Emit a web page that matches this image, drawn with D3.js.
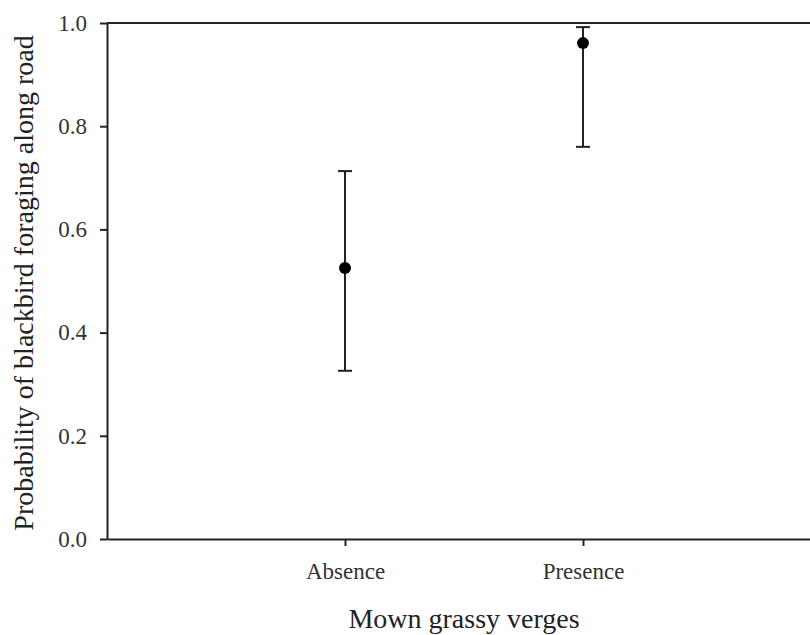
<!DOCTYPE html>
<html>
<head>
<meta charset="utf-8">
<script src="https://cdn.jsdelivr.net/npm/d3@7"></script>
<style>
  body { margin: 0; background: #fff; }
  svg text { font-family: "Liberation Serif", "Times New Roman", Times, serif; fill: #222; }
</style>
</head>
<body>
<div id="chart"></div>
<script>
const categories = ["Absence", "Presence"];
const means = [0.525, 0.961];
const lower = [0.326, 0.760];
const upper = [0.713, 0.992];
const yTicks = [0.0, 0.2, 0.4, 0.6, 0.8, 1.0];

const width = 810, height = 635;
const margin = { top: 23, right: -11, bottom: 96, left: 107 };

const svg = d3.select("#chart").append("svg")
  .attr("width", width)
  .attr("height", height);

const x = d3.scaleLinear()
  .domain([0, categories.length + 1])
  .range([margin.left, width - margin.right]);

const y = d3.scaleLinear()
  .domain([0, 1])
  .range([height - margin.bottom, margin.top]);

const rows = categories.map((c, i) => ({ cat: c, pos: i + 1, m: means[i], lo: lower[i], hi: upper[i] }));

// top frame line
svg.append("line")
  .attr("x1", x(0)).attr("x2", x(categories.length + 1))
  .attr("y1", y(1)).attr("y2", y(1))
  .attr("stroke", "#222").attr("stroke-width", 2);

// y axis
const yAxis = svg.append("g")
  .attr("transform", `translate(${x(0)},0)`)
  .call(d3.axisLeft(y).tickValues(yTicks).tickFormat(d3.format(".1f")).tickSize(7).tickSizeOuter(0).tickPadding(13));

// x axis
const xAxis = svg.append("g")
  .attr("transform", `translate(0,${y(0)})`)
  .call(d3.axisBottom(x).tickValues(rows.map(d => d.pos)).tickFormat((d, i) => categories[i]).tickSize(7).tickSizeOuter(0).tickPadding(17));

[yAxis, xAxis].forEach(a => {
  a.attr("font-family", null);
  a.select(".domain").attr("stroke", "#222").attr("stroke-width", 2);
  a.selectAll(".tick line").attr("stroke", "#222").attr("stroke-width", 2);
  a.selectAll("text").attr("font-size", 23).style("fill", "#333");
});

// error bars
const bars = svg.append("g").selectAll("g").data(rows).enter().append("g");
bars.append("line")
  .attr("x1", d => x(d.pos)).attr("x2", d => x(d.pos))
  .attr("y1", d => y(d.lo)).attr("y2", d => y(d.hi))
  .attr("stroke", "#222").attr("stroke-width", 2);
bars.selectAll(".cap")
  .data(d => [[d.pos, d.lo], [d.pos, d.hi]])
  .enter().append("line")
  .attr("class", "cap")
  .attr("x1", d => x(d[0]) - 7).attr("x2", d => x(d[0]) + 7)
  .attr("y1", d => y(d[1])).attr("y2", d => y(d[1]))
  .attr("stroke", "#222").attr("stroke-width", 2);
bars.append("circle")
  .attr("cx", d => x(d.pos)).attr("cy", d => y(d.m))
  .attr("r", 6).attr("fill", "#000");

// axis titles
svg.append("text")
  .attr("x", (x(1) + x(2)) / 2).attr("y", 628)
  .attr("text-anchor", "middle")
  .attr("font-size", 28)
  .text("Mown grassy verges");

svg.append("text")
  .attr("transform", `translate(33,283) rotate(-90)`)
  .attr("text-anchor", "middle")
  .attr("font-size", 28)
  .text("Probability of blackbird foraging along road");
</script>
</body>
</html>
